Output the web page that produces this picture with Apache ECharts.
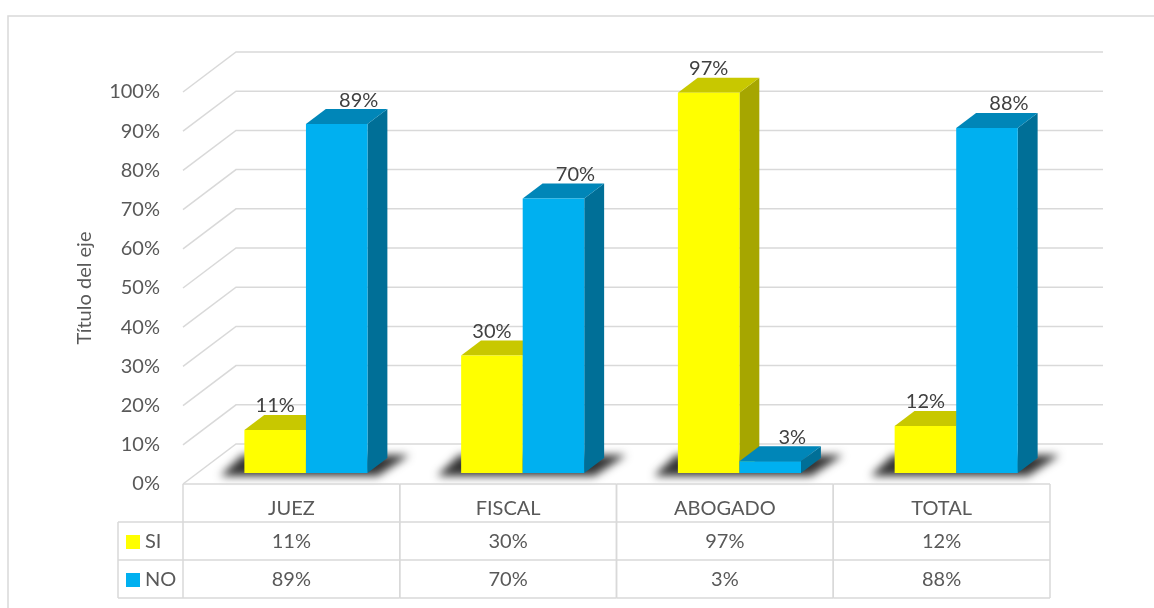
<!DOCTYPE html>
<html><head><meta charset="utf-8">
<script src="https://cdn.jsdelivr.net/npm/echarts@6/dist/echarts.min.js"></script>
<style>html,body{margin:0;padding:0;background:#fff}#c{width:1154px;height:608px}</style>
</head><body><div id="c"></div>
<script>
// ---- data ----
const categories = ['JUEZ', 'FISCAL', 'ABOGADO', 'TOTAL'];
const siValues = [11, 30, 97, 12];
const noValues = [89, 70, 3, 88];
const seriesNames = ['SI', 'NO'];
const yTicks = [0, 10, 20, 30, 40, 50, 60, 70, 80, 90, 100];
const axisTitle = 'Título del eje';

// ---- styling ----
const FONT = 'Lato, "Open Sans", sans-serif';
const TXT = '#595959';
const LBL = '#404040';
const GRIDC = '#D9D9D9';
const WALL = [53, 40];
const SHIFT = 0.275, DEPTH = 0.375, BARW = 0.284;
const COLORS = {
  SI: { front: '#FFFF00', top: '#C8C800', side: '#A6A600' },
  NO: { front: '#00B0F0', top: '#0086B8', side: '#006F97' }
};
const sx = WALL[0] * SHIFT, sy = WALL[1] * SHIFT;
const dx = WALL[0] * DEPTH, dy = WALL[1] * DEPTH;

function wallRender(params, api) {
  const v = api.value(1);
  const cs = params.coordSys;
  const p = api.coord([0, v]);
  const y = p[1];
  return {
    type: 'polyline', silent: true,
    shape: { points: [[cs.x, y], [cs.x + WALL[0], y - WALL[1]], [cs.x + cs.width + WALL[0], y - WALL[1]]] },
    style: { stroke: GRIDC, lineWidth: 1.5, fill: null }
  };
}

function shadowRender(params, api) {
  const idx = api.value(0);
  const base = api.coord([idx, 0]);
  const band = api.size([1, 0])[0];
  const bw = band * BARW;
  const cx = base[0] + sx;
  const x0 = cx - bw, x1 = cx + bw;
  const yB = base[1] - sy;
  const off = 3000;
  return {
    type: 'polygon', silent: true,
    shape: { points: [[x0 - 24 - off, yB + 3], [x0 - 2 - off, yB - 18], [x1 + dx + 22 - off, yB - 18], [x1 + 10 - off, yB + 3]] },
    style: { fill: '#000', shadowBlur: 9, shadowColor: 'rgba(0,0,0,0.8)', shadowOffsetX: off }
  };
}

function barRender(key, dir, labelDx) {
  const col = COLORS[key];
  return function (params, api) {
    const idx = api.value(0), v = api.value(1);
    const top = api.coord([idx, v]);
    const base = api.coord([idx, 0]);
    const band = api.size([1, 0])[0];
    const bw = band * BARW;
    const cx = top[0] + sx;
    const x0 = dir < 0 ? cx - bw : cx;
    const x1 = x0 + bw;
    const yT = top[1] - sy, yB = base[1] - sy;
    return {
      type: 'group',
      children: [
        { type: 'polygon', shape: { points: [[x1, yT], [x1 + dx, yT - dy], [x1 + dx, yB - dy], [x1, yB]] }, style: { fill: col.side } },
        { type: 'polygon', shape: { points: [[x0, yT], [x1, yT], [x1 + dx, yT - dy], [x0 + dx, yT - dy]] }, style: { fill: col.top } },
        { type: 'rect', shape: { x: x0, y: yT, width: bw, height: yB - yT }, style: { fill: col.front } },
        { type: 'text', x: (x0 + x1) / 2 + labelDx, y: yT - dy - 9,
          style: { text: v + '%', fill: LBL, fontSize: 20, fontFamily: FONT, align: 'center', verticalAlign: 'middle' } }
      ]
    };
  };
}

function tableRender(params, api) {
  const idx = api.value(0);
  const c = api.coord([idx, 0]);
  const band = api.size([1, 0])[0];
  const xl = c[0] - band / 2, xr = c[0] + band / 2;
  const y0 = c[1], rh = 38;
  const ls = { stroke: GRIDC, lineWidth: 1.5 };
  const line = (a, b, e, f) => ({ type: 'line', shape: { x1: a, y1: b, x2: e, y2: f }, style: ls });
  const txt = (t, y) => ({ type: 'text', x: c[0], y: y, style: { text: t, fill: TXT, fontSize: 20, fontFamily: FONT, align: 'center', verticalAlign: 'middle' } });
  const ch = [
    line(xl, y0, xr, y0), line(xl, y0, xl, y0 + 3 * rh), line(xr, y0, xr, y0 + 3 * rh),
    line(xl, y0 + rh, xr, y0 + rh), line(xl, y0 + 2 * rh, xr, y0 + 2 * rh), line(xl, y0 + 3 * rh, xr, y0 + 3 * rh),
    txt(api.value(1) + '%', y0 + 1.5 * rh + 1), txt(api.value(2) + '%', y0 + 2.5 * rh + 1)
  ];
  if (idx === 0) {
    const lx = xl - 65;
    ch.push(line(lx, y0 + rh, xl, y0 + rh), line(lx, y0 + 2 * rh, xl, y0 + 2 * rh), line(lx, y0 + 3 * rh, xl, y0 + 3 * rh), line(lx, y0 + rh, lx, y0 + 3 * rh));
  }
  return { type: 'group', silent: true, children: ch };
}

const chart = echarts.init(document.getElementById('c'), null, { renderer: 'canvas' });
chart.setOption({
  animation: false,
  backgroundColor: '#fff',
  textStyle: { fontFamily: FONT },
  graphic: [{ type: 'rect', shape: { x: 8, y: 16, width: 1300, height: 800 }, style: { fill: null, stroke: GRIDC, lineWidth: 1.5 }, silent: true }],
  legend: {
    data: seriesNames, orient: 'vertical', left: 126, top: 532, padding: 0, itemGap: 18,
    itemWidth: 14, itemHeight: 14, icon: 'rect', selectedMode: false,
    textStyle: { color: TXT, fontSize: 20, fontFamily: FONT }
  },
  grid: { left: 183, top: 92, width: 867, height: 392 },
  xAxis: {
    type: 'category', data: categories,
    axisLine: { show: false }, axisTick: { show: false },
    axisLabel: { margin: 15, color: TXT, fontSize: 20, fontFamily: FONT }
  },
  yAxis: {
    type: 'value', min: 0, max: 100, interval: 10,
    name: axisTitle, nameLocation: 'middle', nameGap: 88,
    nameTextStyle: { color: TXT, fontSize: 20, fontFamily: FONT },
    axisLine: { show: false }, axisTick: { show: false }, splitLine: { show: false },
    axisLabel: { formatter: '{value}%', margin: 23, color: TXT, fontSize: 20, fontFamily: FONT, padding: [4, 0, 0, 0] }
  },
  series: [
    { type: 'custom', name: 'walls', renderItem: wallRender, data: yTicks.map(t => [0, t]), encode: { x: 0, y: 1 }, silent: true },
    { type: 'custom', name: 'shadow', renderItem: shadowRender, data: categories.map((c, i) => [i, 0]), encode: { x: 0, y: 1 }, silent: true },
    { type: 'custom', name: seriesNames[0], renderItem: barRender('SI', -1, 0), data: siValues.map((v, i) => [i, v]), encode: { x: 0, y: 1 }, itemStyle: { color: COLORS.SI.front } },
    { type: 'custom', name: seriesNames[1], renderItem: barRender('NO', 1, 22), data: noValues.map((v, i) => [i, v]), encode: { x: 0, y: 1 }, itemStyle: { color: COLORS.NO.front } },
    { type: 'custom', name: 'table', renderItem: tableRender, data: categories.map((c, i) => [i, siValues[i], noValues[i]]), encode: { x: 0 }, silent: true }
  ]
});
</script>
</body></html>
